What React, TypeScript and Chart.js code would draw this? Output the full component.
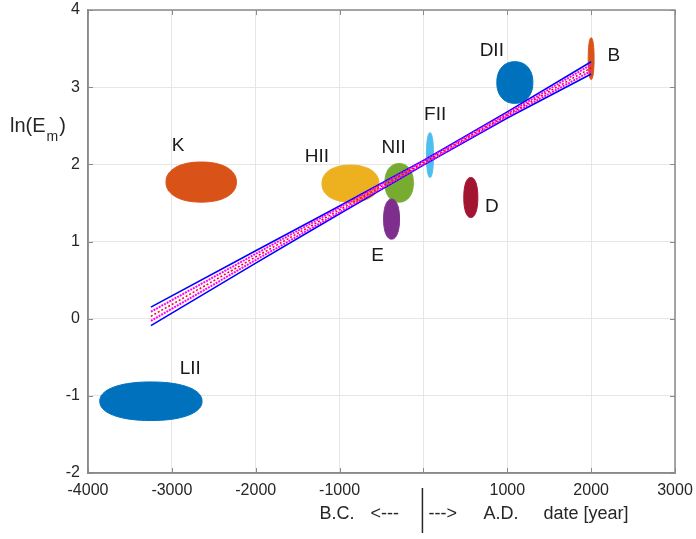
import React, { useEffect, useRef } from "react";
import { Chart, registerables } from "chart.js";

Chart.register(...registerables);

// ---- data ----
const categories = ["LII", "K", "HII", "NII", "E", "FII", "D", "DII", "B"];
const clusterDate = [-3250, -2650, -870, -290, -380, 78, 565, 1090, 2000];
const clusterLnE = [-1.07, 1.77, 1.75, 1.76, 1.29, 2.12, 1.57, 3.06, 3.37];
const dateSpread = [610, 420, 340, 170, 95, 42, 84, 215, 35];
const lnESpread = [0.25, 0.26, 0.24, 0.25, 0.26, 0.29, 0.26, 0.27, 0.27];
const clusterColors = ["#0072BD", "#D95319", "#EDB120", "#77AC30", "#7E2F8E", "#4DBEEE", "#A2142F", "#0072BD", "#D95319"];
const labelDate = [-2781, -2925, -1270, -356, -547, 140, 815, 815, 2272];
const labelLnE = [-0.65, 2.24, 2.10, 2.21, 0.82, 2.64, 1.45, 3.47, 3.41];

const regDate = [-3250, -2000, -1000, 0, 1000, 2000];
const regMid = [0.03, 0.8, 1.41, 2.02, 2.64, 3.25];
const blueHi = [0.15, 0.88, 1.46, 2.05, 2.68, 3.33];
const blueLo = [-0.09, 0.72, 1.36, 1.99, 2.6, 3.17];
const magHi = [0.09, 0.84, 1.44, 2.04, 2.66, 3.29];
const magLo = [-0.03, 0.76, 1.38, 2.0, 2.62, 3.21];

const xTicksMin = -4000;
const xTicksMax = 3000;
const yTicksMin = -2;
const yTicksMax = 4;

const FONT = "'Liberation Sans', Arial, Helvetica, sans-serif";
const AXIS = "#8a8a8a";
const TEXT = "#262626";

const pts = (ys: number[]) => regDate.map((d, i) => ({ x: d, y: ys[i] }));

function blob(ctx: CanvasRenderingContext2D, cx: number, cy: number, rx: number, ry: number) {
  const n = 2.2;
  ctx.beginPath();
  for (let k = 0; k <= 72; k++) {
    const t = (k / 72) * Math.PI * 2;
    const c = Math.cos(t), s = Math.sin(t);
    const px = cx + rx * Math.sign(c) * Math.pow(Math.abs(c), 2 / n);
    const py = cy + ry * Math.sign(s) * Math.pow(Math.abs(s), 2 / n);
    if (k === 0) ctx.moveTo(px, py); else ctx.lineTo(px, py);
  }
  ctx.closePath();
}

const clusterPlugin = {
  id: "clusters",
  beforeDatasetsDraw(chart: any) {
    const { ctx, chartArea, scales } = chart;
    const x = scales.x, y = scales.y;
    ctx.save();
    ctx.beginPath();
    ctx.rect(chartArea.left, chartArea.top, chartArea.right - chartArea.left, chartArea.bottom - chartArea.top);
    ctx.clip();
    categories.forEach((_, i) => {
      const cx = x.getPixelForValue(clusterDate[i]);
      const cy = y.getPixelForValue(clusterLnE[i]);
      const rx = Math.abs(x.getPixelForValue(clusterDate[i] + dateSpread[i]) - cx);
      const ry = Math.abs(y.getPixelForValue(clusterLnE[i] + lnESpread[i]) - cy);
      ctx.fillStyle = clusterColors[i];
      ctx.strokeStyle = clusterColors[i];
      ctx.lineWidth = 1;
      blob(ctx, cx, cy, rx, ry);
      ctx.fill();
      ctx.stroke();
    });
    ctx.restore();
  },
  afterDatasetsDraw(chart: any) {
    const { ctx, scales } = chart;
    const x = scales.x, y = scales.y;
    ctx.save();
    ctx.fillStyle = "#1a1a1a";
    ctx.font = `19px ${FONT}`;
    ctx.textAlign = "center";
    ctx.textBaseline = "middle";
    categories.forEach((name, i) => {
      ctx.fillText(name, x.getPixelForValue(labelDate[i]), y.getPixelForValue(labelLnE[i]));
    });
    ctx.restore();
  },
  afterDraw(chart: any) {
    const { ctx, chartArea, scales } = chart;
    const x = scales.x, y = scales.y;
    const { left, right, top, bottom } = chartArea;
    ctx.save();
    ctx.strokeStyle = AXIS;
    ctx.lineWidth = 1.5;
    ctx.strokeRect(left, top, right - left, bottom - top);
    ctx.lineWidth = 1;
    ctx.beginPath();
    for (let v = xTicksMin; v <= xTicksMax; v += 1000) {
      const px = Math.round(x.getPixelForValue(v)) + 0.5;
      ctx.moveTo(px, bottom); ctx.lineTo(px, bottom - 5);
      ctx.moveTo(px, top); ctx.lineTo(px, top + 5);
    }
    for (let v = yTicksMin; v <= yTicksMax; v += 1) {
      const py = Math.round(y.getPixelForValue(v)) + 0.5;
      ctx.moveTo(left, py); ctx.lineTo(left + 5, py);
      ctx.moveTo(right, py); ctx.lineTo(right - 5, py);
    }
    ctx.stroke();

    // y title  ln(E_m)
    ctx.fillStyle = TEXT;
    ctx.textBaseline = "alphabetic";
    ctx.textAlign = "left";
    ctx.font = `20px ${FONT}`;
    const base = 132;
    let cur = 10;
    ctx.fillText("ln(E", cur, base);
    cur += ctx.measureText("ln(E").width + 1;
    ctx.font = `14px ${FONT}`;
    ctx.fillText("m", cur, base + 9);
    cur += ctx.measureText("m").width + 1;
    ctx.font = `20px ${FONT}`;
    ctx.fillText(")", cur, base);

    // x title row
    const x0 = x.getPixelForValue(0);
    const ty = bottom + 46;
    ctx.font = `18px ${FONT}`;
    ctx.fillText("B.C.", x0 - 104, ty);
    ctx.fillText("<---", x0 - 53, ty);
    ctx.fillText("--->", x0 + 5, ty);
    ctx.fillText("A.D.", x0 + 60, ty);
    ctx.fillText("date [year]", x0 + 120, ty);
    ctx.strokeStyle = TEXT;
    ctx.lineWidth = 1.5;
    ctx.beginPath();
    ctx.moveTo(x0 - 1, bottom + 15);
    ctx.lineTo(x0 - 1, bottom + 60);
    ctx.stroke();
    ctx.restore();
  },
};

export default function App() {
  const ref = useRef<HTMLCanvasElement>(null);
  useEffect(() => {
    if (!ref.current) return;
    const chart = new Chart(ref.current, {
      type: "scatter",
      data: {
        datasets: [
          { label: "fit", data: pts(regMid), showLine: true, borderColor: "#ff0000", borderWidth: 1.5, borderDash: [2, 2], pointRadius: 0 },
          { label: "mag+", data: pts(magHi), showLine: true, borderColor: "#ff00ff", borderWidth: 2, borderDash: [2, 1], pointRadius: 0 },
          { label: "mag-", data: pts(magLo), showLine: true, borderColor: "#ff00ff", borderWidth: 2, borderDash: [2, 1], pointRadius: 0 },
          { label: "blue+", data: pts(blueHi), showLine: true, borderColor: "#0000ff", borderWidth: 1.6, pointRadius: 0 },
          { label: "blue-", data: pts(blueLo), showLine: true, borderColor: "#0000ff", borderWidth: 1.6, pointRadius: 0 },
        ],
      },
      plugins: [clusterPlugin],
      options: {
        animation: false,
        responsive: true,
        maintainAspectRatio: false,
        layout: { padding: { top: 10, right: 21, left: 0, bottom: 0 } },
        plugins: { legend: { display: false }, tooltip: { enabled: false } },
        scales: {
          x: {
            type: "linear",
            min: xTicksMin,
            max: xTicksMax,
            ticks: {
              stepSize: 1000,
              padding: 8,
              color: TEXT,
              font: { size: 16, family: FONT },
              maxRotation: 0,
              callback: (v: any) => (v === 0 ? "" : String(v)),
            },
            grid: { color: "#e6e6e6", drawTicks: false, lineWidth: 1 },
            border: { display: true, color: AXIS, width: 1.5 },
            afterFit: (s: any) => { s.height = 66; s.paddingLeft = 0; s.paddingRight = 0; },
          },
          y: {
            type: "linear",
            min: yTicksMin,
            max: yTicksMax,
            ticks: {
              stepSize: 1,
              padding: 8,
              color: TEXT,
              font: { size: 16, family: FONT },
            },
            grid: { color: "#e6e6e6", drawTicks: false, lineWidth: 1 },
            border: { display: true, color: AXIS, width: 1.5 },
            afterFit: (s: any) => { s.width = 88; s.paddingTop = 0; s.paddingBottom = 0; },
          },
        },
      },
    });
    return () => chart.destroy();
  }, []);
  return (
    <div style={{ position: "fixed", left: 0, top: 0, width: 696, height: 539, background: "#fff" }}>
      <canvas ref={ref} />
    </div>
  );
}
